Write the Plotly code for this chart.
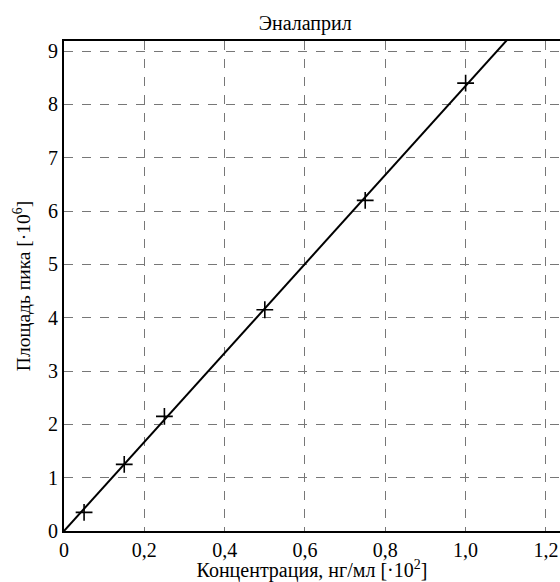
import plotly.graph_objects as go

conc = [0.05, 0.15, 0.25, 0.5, 0.75, 1.0]
area = [0.35, 1.25, 2.15, 4.15, 6.2, 8.4]
fit_x = [0.0, 1.12]
fit_y = [0.0, 9.35]
x_tickvals = [0, 0.2, 0.4, 0.6, 0.8, 1.0, 1.2]
x_ticktext = ["0", "0,2", "0,4", "0,6", "0,8", "1,0", "1,2"]
y_tickvals = [0, 1, 2, 3, 4, 5, 6, 7, 8, 9]

fig = go.Figure()
fig.add_trace(go.Scatter(x=fit_x, y=fit_y, mode="lines",
                         line=dict(color="black", width=2), showlegend=False))
fig.add_trace(go.Scatter(x=conc, y=area, mode="markers",
                         marker=dict(symbol="cross-thin", size=12,
                                     line=dict(color="black", width=1.6)),
                         showlegend=False))

font = "Liberation Serif, serif"
fig.update_layout(
    width=560, height=582,
    margin=dict(l=64, r=0, t=41, b=51, autoexpand=False),
    paper_bgcolor="white", plot_bgcolor="white",
    font=dict(family=font, color="black", size=20),
    title=dict(text="Эналаприл", x=0.545, xanchor="center", y=0.961, yanchor="middle",
               font=dict(size=20, family=font)),
)
fig.update_xaxes(range=[0, 1.235], tickvals=x_tickvals, ticktext=x_ticktext,
                 showgrid=True, gridcolor="#777", griddash="dash", gridwidth=1,
                 showline=True, linecolor="black", linewidth=2, mirror=True,
                 zeroline=False, ticks="", ticklen=0, automargin=False,
                 tickfont=dict(size=20, family=font),
                 title=dict(text="Концентрация, нг/мл [·10<sup>2</sup>]",
                            font=dict(size=20, family=font), standoff=0))
fig.update_yaxes(range=[0, 9.19], tickvals=y_tickvals,
                 showgrid=True, gridcolor="#777", griddash="dash", gridwidth=1,
                 showline=True, linecolor="black", linewidth=2,
                 zeroline=False, ticks="", ticklen=0, automargin=False,
                 tickfont=dict(size=20, family=font),
                 title=dict(text="Площадь пика [·10<sup>6</sup>]",
                            font=dict(size=19.5, family=font), standoff=12))
fig.write_html("out.html", config={"displayModeBar": False},
               post_script="document.body.style.margin='0';document.body.style.overflow='hidden';")
